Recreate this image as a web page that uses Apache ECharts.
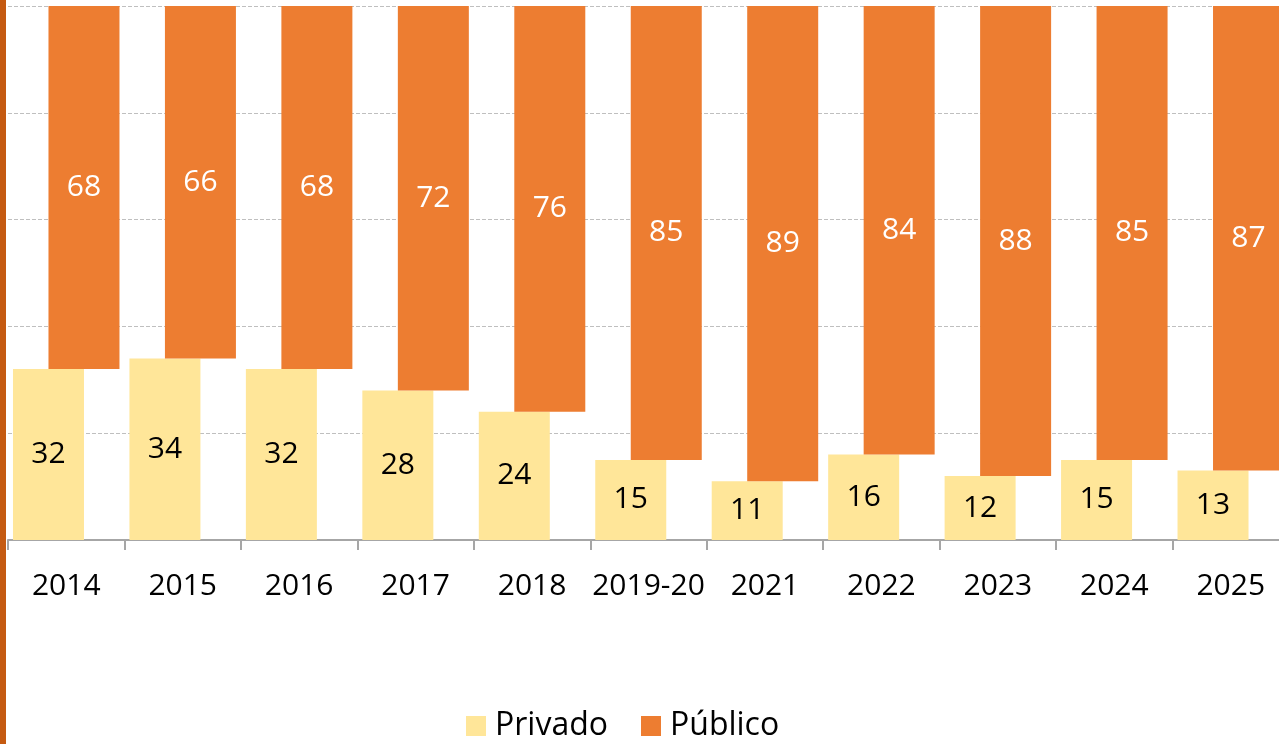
<!DOCTYPE html>
<html>
<head>
<meta charset="utf-8">
<script src="https://cdn.jsdelivr.net/npm/echarts@6/dist/echarts.min.js"></script>
<style>
  html, body { margin: 0; padding: 0; background: #fff; }
  #chart { width: 1279px; height: 744px; }
</style>
</head>
<body>
<div id="chart"></div>
<script>
var years = ['2014', '2015', '2016', '2017', '2018', '2019-20', '2021', '2022', '2023', '2024', '2025'];
var privado = [32, 34, 32, 28, 24, 15, 11, 16, 12, 15, 13];
var publico = [68, 66, 68, 72, 76, 85, 89, 84, 88, 85, 87];

var myChart = echarts.init(document.getElementById('chart'));
var font = '"Open Sans", "Noto Sans", sans-serif';

option = {
    animation: false,
    textStyle: { fontFamily: font },
    graphic: [{
        type: 'rect',
        shape: { x: 0, y: 0, width: 6, height: 744 },
        style: { fill: '#C55A11' }
    }],
    // el eje sigue mas alla del borde derecho
    grid: { left: 8, width: 1281, top: 6, bottom: 204, outerBoundsMode: 'none' },
    legend: {
        left: 461,
        bottom: -3,
        itemWidth: 20,
        itemHeight: 20,
        itemGap: 33,
        icon: 'rect',
        textStyle: { fontSize: 32, color: '#000', fontFamily: font, padding: [0, 0, 0, 4] },
        data: ['Privado', 'Público']
    },
    xAxis: {
        type: 'category',
        data: years,
        axisLine: { lineStyle: { color: '#A6A6A6', width: 2 } },
        axisTick: { show: true, interval: 0, length: 10, lineStyle: { color: '#A6A6A6', width: 2 } },
        axisLabel: { interval: 0, color: '#000', fontSize: 30, margin: 31, fontFamily: font }
    },
    yAxis: [{
        type: 'value',
        min: 0,
        max: 100,
        interval: 20,
        axisLine: { show: false },
        axisTick: { show: false },
        axisLabel: { show: false },
        splitLine: { lineStyle: { color: '#BFBFBF', type: [4, 2], width: 1 } }
    }, {
        type: 'value',
        min: 0,
        max: 100,
        inverse: true,
        axisLine: { show: false },
        axisTick: { show: false },
        axisLabel: { show: false },
        splitLine: { show: false }
    }],
    series: [{
        name: 'Privado',
        type: 'bar',
        yAxisIndex: 0,
        data: privado,
        barWidth: 71,
        barGap: '-50%',
        itemStyle: { color: '#FFE699' },
        label: { show: true, position: 'inside', color: '#000', fontSize: 30, fontFamily: font }
    }, {
        name: 'Público',
        type: 'bar',
        yAxisIndex: 1,
        data: publico,
        barWidth: 71,
        barGap: '-50%',
        z: 3,
        itemStyle: { color: '#ED7D31' },
        label: { show: true, position: 'inside', color: '#fff', fontSize: 30, fontFamily: font }
    }]
};

myChart.setOption(option);
</script>
</body>
</html>
